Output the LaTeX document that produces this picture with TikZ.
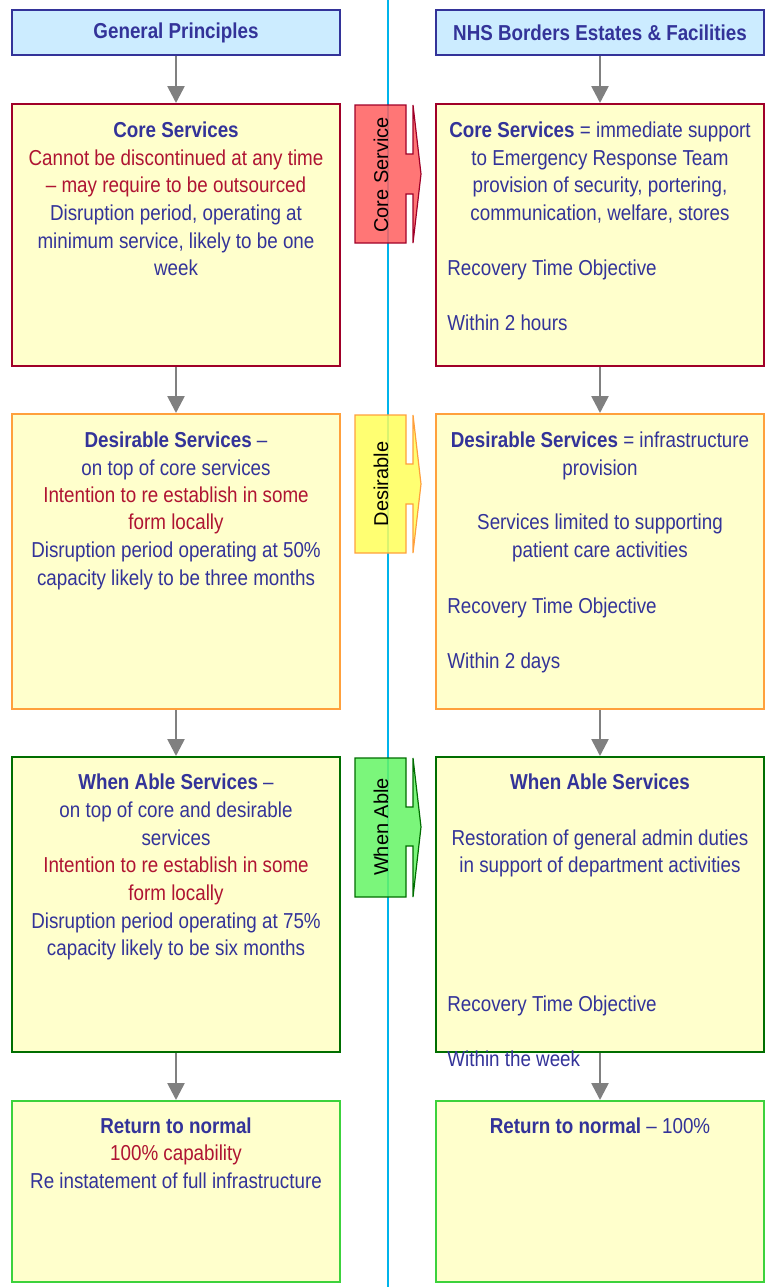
\documentclass[tikz,border=0pt]{standalone}
\usepackage{fontspec}
\setmainfont{Liberation Sans}
\usetikzlibrary{arrows.meta,positioning}
\definecolor{tblue}{RGB}{51,51,153}
\definecolor{tred}{RGB}{175,20,50}
\definecolor{hfill}{RGB}{204,236,255}
\definecolor{yfill}{RGB}{255,255,204}
\definecolor{cRed}{RGB}{160,0,40}
\definecolor{cOrange}{RGB}{255,160,60}
\definecolor{cDkGreen}{RGB}{0,110,0}
\definecolor{cGreen}{RGB}{60,210,60}
\definecolor{cyanline}{RGB}{0,180,235}
\definecolor{arrgray}{RGB}{128,128,128}
\definecolor{tagred}{RGB}{255,95,95}
\definecolor{tagyellow}{RGB}{255,255,90}
\definecolor{taggreen}{RGB}{100,245,100}
\newcommand{\fs}{\fontsize{9.4pt}{11pt}\selectfont}
\newcommand{\tx}[1]{\scalebox{1}[1.15]{#1}}
\begin{document}
\begin{tikzpicture}[x=0.5pt,y=-0.5pt,
  hdr/.style={draw=tblue,fill=hfill,line width=1pt,minimum width=164pt,minimum height=22.5pt,inner sep=0,font=\fs\bfseries,text=tblue},
  box/.style={fill=yfill,line width=1pt,minimum width=164pt,inner sep=0},
  ln/.style={font=\fs,text=tblue,inner sep=0,anchor=base},
  lnl/.style={ln,anchor=base west},
  rd/.style={text=tred},
  bd/.style={font=\fs\bfseries},
  arr/.style={draw=arrgray,line width=1.3pt,-{Triangle[length=8.5pt,width=8.5pt]}},
  tag/.style={line width=0.6pt,fill opacity=0.85},
  tagtxt/.style={font=\fontsize{10pt}{12pt}\selectfont,text=black,rotate=90,inner sep=0}
]
\useasboundingbox (0,0) rectangle (765,1287);
\fill[white] (0,0) rectangle (765,1287);
% divider
\draw[cyanline,line width=1pt] (388,0) -- (388,1287);

% headers
\node[hdr] (H1) at (176,32.5) {\tx{General Principles}};
\node[hdr] (H2) at (600,32.5) {\tx{NHS Borders Estates \& Facilities}};

% boxes
\node[box,draw=cRed,minimum height=131pt] (L1) at (176,235) {};
\node[box,draw=cRed,minimum height=131pt] (R1) at (600,235) {};
\node[box,draw=cOrange,minimum height=147.5pt] (L2) at (176,561.5) {};
\node[box,draw=cOrange,minimum height=147.5pt] (R2) at (600,561.5) {};
\node[box,draw=cDkGreen,minimum height=147.5pt] (L3) at (176,904.5) {};
\node[box,draw=cDkGreen,minimum height=147.5pt] (R3) at (600,904.5) {};
\node[box,draw=cGreen,minimum height=90.5pt] (L4) at (176,1191.5) {};
\node[box,draw=cGreen,minimum height=90.5pt] (R4) at (600,1191.5) {};

% connectors
\draw[arr] (H1.south) -- (L1.north);
\draw[arr] (L1.south) -- (L2.north);
\draw[arr] (L2.south) -- (L3.north);
\draw[arr] (L3.south) -- (L4.north);
\draw[arr] (H2.south) -- (R1.north);
\draw[arr] (R1.south) -- (R2.north);
\draw[arr] (R2.south) -- (R3.north);
\draw[arr] (R3.south) -- (R4.north);

% tags
\draw[tag,draw=cRed,fill=tagred] (355,105) -- (406,105) -- (406,154) -- (413,154) -- (413,105) -- (421,174) -- (413,243) -- (413,194) -- (406,194) -- (406,243) -- (355,243) -- cycle;
\node[tagtxt] (T1) at (381,175) {Core Service};
\draw[tag,draw=cOrange,fill=tagyellow] (355,415) -- (406,415) -- (406,464) -- (413,464) -- (413,415) -- (421,484) -- (413,553) -- (413,504) -- (406,504) -- (406,553) -- (355,553) -- cycle;
\node[tagtxt] (T2) at (381,484) {Desirable};
\draw[tag,draw=cDkGreen,fill=taggreen] (355,758) -- (406,758) -- (406,807) -- (413,807) -- (413,758) -- (421,827) -- (413,897) -- (413,846) -- (406,846) -- (406,897) -- (355,897) -- cycle;
\node[tagtxt] (T3) at (381,827) {When Able};

% left column texts
\node[ln,bd] (l1a) at (176,137) {\tx{Core Services}};
\node[ln,rd] (l1b) at (176,165) {\tx{Cannot be discontinued at any time}};
\node[ln,rd] (l1c) at (176,192) {\tx{-- may require to be outsourced}};
\node[ln] (l1d) at (176,220) {\tx{Disruption period, operating at}};
\node[ln] (l1e) at (176,248) {\tx{minimum service, likely to be one}};
\node[ln] (l1f) at (176,275) {\tx{week}};

\node[ln] (l2a) at (176,447) {\tx{\textbf{Desirable Services} --}};
\node[ln] (l2b) at (176,475) {\tx{on top of core services}};
\node[ln,rd] (l2c) at (176,502) {\tx{Intention to re establish in some}};
\node[ln,rd] (l2d) at (176,529) {\tx{form locally}};
\node[ln] (l2e) at (176,557) {\tx{Disruption period operating at 50\%}};
\node[ln] (l2f) at (176,585) {\tx{capacity likely to be three months}};

\node[ln] (l3a) at (176,789) {\tx{\textbf{When Able Services} --}};
\node[ln] (l3b) at (176,817) {\tx{on top of core and desirable}};
\node[ln] (l3c) at (176,845) {\tx{services}};
\node[ln,rd] (l3d) at (176,872) {\tx{Intention to re establish in some}};
\node[ln,rd] (l3e) at (176,900) {\tx{form locally}};
\node[ln] (l3f) at (176,928) {\tx{Disruption period operating at 75\%}};
\node[ln] (l3g) at (176,955) {\tx{capacity likely to be six months}};

\node[ln,bd] (l4a) at (176,1133) {\tx{Return to normal}};
\node[ln,rd] (l4b) at (176,1160) {\tx{100\% capability}};
\node[ln] (l4c) at (176,1188) {\tx{Re instatement of full infrastructure}};

% right column texts
\node[ln] (r1a) at (600,137) {\tx{\textbf{Core Services} = immediate support}};
\node[ln] (r1b) at (600,165) {\tx{to Emergency Response Team}};
\node[ln] (r1c) at (600,192) {\tx{provision of security, portering,}};
\node[ln] (r1d) at (600,220) {\tx{communication, welfare, stores}};
\node[lnl] (r1e) at (447,275) {\tx{Recovery Time Objective}};
\node[lnl] (r1f) at (447,330) {\tx{Within 2 hours}};

\node[ln] (r2a) at (600,447) {\tx{\textbf{Desirable Services} = infrastructure}};
\node[ln] (r2b) at (600,475) {\tx{provision}};
\node[ln] (r2c) at (600,529) {\tx{Services limited to supporting}};
\node[ln] (r2d) at (600,557) {\tx{patient care activities}};
\node[lnl] (r2e) at (447,613) {\tx{Recovery Time Objective}};
\node[lnl] (r2f) at (447,668) {\tx{Within 2 days}};

\node[ln,bd] (r3a) at (600,789) {\tx{When Able Services}};
\node[ln] (r3b) at (600,845) {\tx{Restoration of general admin duties}};
\node[ln] (r3c) at (600,872) {\tx{in support of department activities}};
\node[lnl] (r3d) at (447,1011) {\tx{Recovery Time Objective}};
\node[lnl] (r3e) at (447,1066) {\tx{Within the week}};

\node[ln] (r4a) at (600,1133) {\tx{\textbf{Return to normal} -- 100\%}};
\end{tikzpicture}
\end{document}
